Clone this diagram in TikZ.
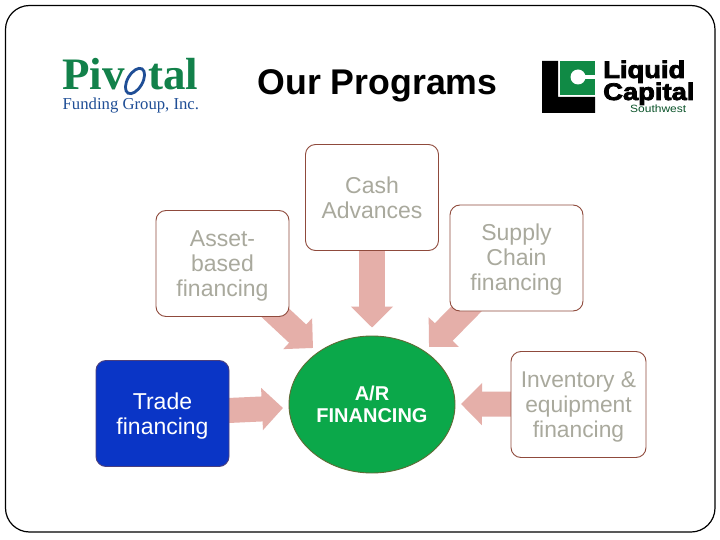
\documentclass[tikz,border=0pt]{standalone}
\usepackage{fontspec}
\setmainfont{Liberation Sans}
\newfontfamily\logoserif{Liberation Serif}
\newfontfamily\heavysans[FakeBold=3]{Liberation Sans Bold}
\usetikzlibrary{arrows.meta,backgrounds,shapes.geometric}
\definecolor{boxedge}{HTML}{8F4A3C}
\definecolor{boxtext}{HTML}{A9A99D}
\definecolor{arrowpink}{HTML}{E5AFA9}
\definecolor{tradeblue}{HTML}{0A35C6}
\definecolor{tradeedge}{HTML}{4A3F7E}
\definecolor{argreen}{HTML}{0BA84A}
\definecolor{aredge}{HTML}{5F6B35}
\definecolor{pivgreen}{HTML}{12814A}
\definecolor{pivblue}{HTML}{1F4E96}
\definecolor{lcgreen}{HTML}{108A45}
\newcommand{\lowerby}[1]{\rule{0pt}{#1}}
\tikzset{
  x=1pt,y=-1pt,
  progbox/.style={draw=boxedge,line width=0.9pt,fill=white,rounded corners=10pt,
    minimum width=#1,minimum height=106pt,inner sep=0pt,align=center,text=boxtext,
    font=\fontsize{23}{25}\selectfont},
  progbox/.default=133pt,
  blockarrow/.style={draw=arrowpink,line width=#1,
    -{Triangle[width=41pt,length=21pt,fill=arrowpink]}},
  blockarrow/.default=25pt,
}
\begin{document}
\begin{tikzpicture}
\useasboundingbox (0,0) rectangle (720,540);

\node[anchor=base,inner sep=0pt,font=\fontsize{35.7}{38}\selectfont\bfseries] (title) at (377.5,95) {Our Programs};

% Pivotal logo
\node[anchor=base west,inner sep=0pt,text=pivgreen,font=\fontsize{45}{45}\logoserif\bfseries] (pivA) at (62,90) {Piv};
\node[anchor=base west,inner sep=0pt,text=pivgreen,font=\fontsize{45}{45}\logoserif\bfseries] (pivB) at (148,90) {tal};
\draw[pivblue,line width=2.8pt,rotate around={60:(135,81)}] (135,81) ellipse (14pt and 7.5pt);
\node[anchor=base west,inner sep=0pt,text=pivblue,font=\fontsize{16.7}{18}\logoserif] (pivC) at (62.5,110) {Funding Group, Inc.};

% Liquid Capital logo
\fill[black] (542,61) -- (558,61) -- (558,97) -- (595,97) -- (595,113) -- (542,113) -- cycle;
\fill[lcgreen] (560,61) rectangle (595,95);
\fill[white] (578,77) circle (7.5pt);
\fill[white] (578,75) rectangle (595,79);
\node[anchor=base west,inner sep=0pt,xscale=1.14,font=\fontsize{24}{24}\heavysans] (liqA) at (603,78) {Liquid};
\node[anchor=base west,inner sep=0pt,xscale=1.14,font=\fontsize{24}{24}\heavysans] (liqB) at (603,100) {Capital};
\node[anchor=base west,inner sep=0pt,xscale=1.14,text=lcgreen!60!black,font=\fontsize{10.5}{11}\selectfont] (liqC) at (630,112.5) {Southwest};

% Boxes
\node[progbox] (cash) at (372,197.5) {Cash\\Advances};
\node[progbox] (asset) at (222.5,263.5) {\lowerby{20.5pt}Asset-\\based\\financing};
\node[progbox] (supply) at (516.5,258) {\lowerby{20.5pt}Supply\\Chain\\financing};
\node[progbox,fill=tradeblue,draw=tradeedge,text=white] (trade) at (162.5,413.5) {\lowerby{21.5pt}Trade\\financing};
\node[progbox=135pt,font=\fontsize{22.8}{25}\selectfont] (inv) at (578.5,404.5) {\lowerby{20.5pt}Inventory \&\\equipment\\financing};
\node[draw=aredge,line width=0.9pt,fill=argreen,ellipse,minimum width=166pt,minimum height=137pt,inner sep=0pt,
  align=center,text=white,font=\fontsize{20}{21.5}\selectfont\bfseries] (ar) at (372,404.5) {A/R\\FINANCING};

% Arrow end points
\coordinate (tipA) at (313,348);
\coordinate (tipS) at (429,347);
\coordinate (tipT) at (283,408);
\coordinate (tipI) at (461,404);

\begin{scope}[on background layer]
\fill[white] (0,0) rectangle (720,540);
\draw[black,line width=1.2pt,rounded corners=24pt] (5.5,5.5) rectangle (715,532);
\draw[blockarrow] (asset.center) -- (tipA);
\draw[blockarrow] (supply.center) -- (tipS);
\draw[blockarrow=26pt,shorten >=8pt] (cash.center) -- (ar.north);
\draw[blockarrow] (trade.center) -- (tipT);
\draw[blockarrow] (inv.center) -- (tipI);
\end{scope}
\end{tikzpicture}
\end{document}
